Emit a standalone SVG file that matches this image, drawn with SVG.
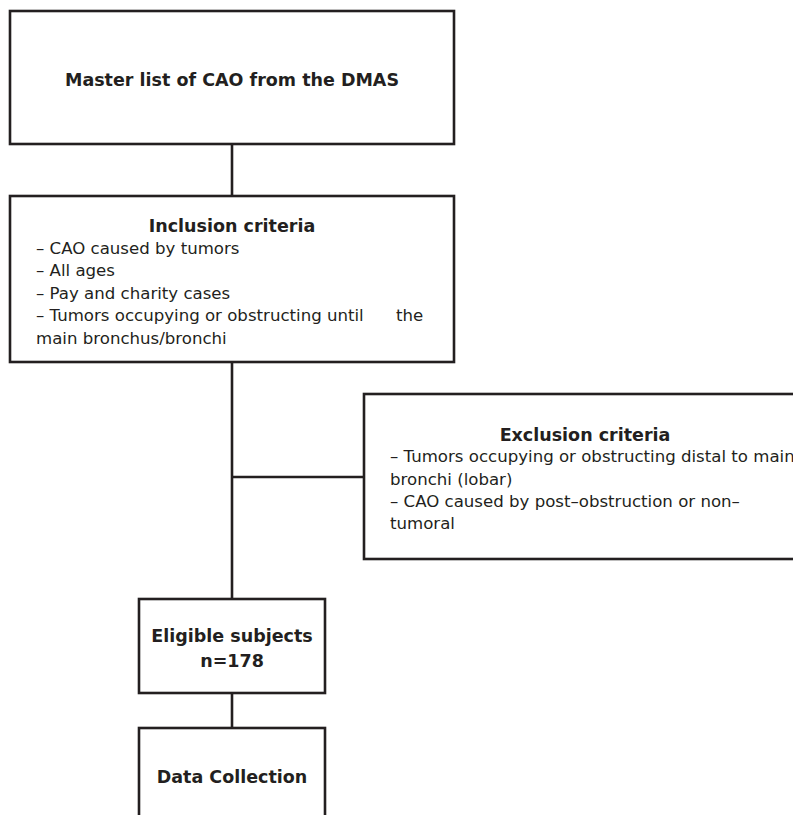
<svg xmlns="http://www.w3.org/2000/svg" width="793" height="815" viewBox="0 0 793 815">
<style>
  .box { fill: #ffffff; stroke: #231f20; stroke-width: 2.6; }
  .conn { stroke: #231f20; stroke-width: 2.6; fill: none; }
  text { font-family: "DejaVu Sans", "Liberation Sans", sans-serif; fill: #231f20; font-size: 16.6px; }
  .b { font-weight: bold; font-size: 17.5px; }
</style>
<rect width="793" height="815" fill="#ffffff"/>
<g id="connectors">
  <line class="conn" x1="232" y1="144" x2="232" y2="196"/>
  <line class="conn" x1="232" y1="362" x2="232" y2="599"/>
  <line class="conn" x1="232" y1="477" x2="364" y2="477"/>
  <line class="conn" x1="232" y1="693" x2="232" y2="728"/>
</g>
<g id="master">
  <rect class="box" x="10" y="11" width="444" height="133"/>
  <text class="b" x="232" y="86" text-anchor="middle">Master list of CAO from the DMAS</text>
</g>
<g id="inclusion">
  <rect class="box" x="10" y="196" width="444" height="166"/>
  <text class="b" x="232" y="232" text-anchor="middle">Inclusion criteria</text>
  <text x="36" y="254">– CAO caused by tumors</text>
  <text x="36" y="276">– All ages</text>
  <text x="36" y="299">– Pay and charity cases</text>
  <text x="36" y="321">– Tumors occupying or obstructing until</text>
  <text x="396" y="321">the</text>
  <text x="36" y="344">main bronchus/bronchi</text>
</g>
<g id="exclusion">
  <rect class="box" x="364" y="394" width="450" height="165"/>
  <text class="b" x="585" y="441" text-anchor="middle">Exclusion criteria</text>
  <text x="390" y="462">– Tumors occupying or obstructing distal to main</text>
  <text x="390" y="485">bronchi (lobar)</text>
  <text x="390" y="507">– CAO caused by post–obstruction or non–</text>
  <text x="390" y="529">tumoral</text>
</g>
<g id="eligible">
  <rect class="box" x="139" y="599" width="186" height="94"/>
  <text class="b" x="232" y="642" text-anchor="middle">Eligible subjects</text>
  <text class="b" x="232" y="667" text-anchor="middle">n=178</text>
</g>
<g id="data">
  <rect class="box" x="139" y="728" width="186" height="100"/>
  <text class="b" x="232" y="783" text-anchor="middle">Data Collection</text>
</g>
</svg>
